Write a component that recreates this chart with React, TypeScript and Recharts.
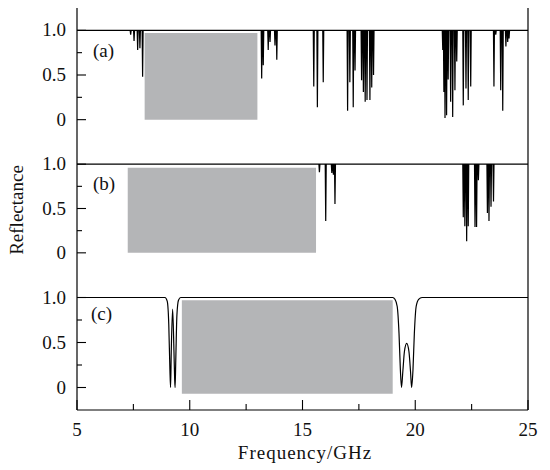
import { LineChart, Line, XAxis, YAxis, ReferenceArea } from 'recharts';

const xTicks = [5, 7.5, 10, 12.5, 15, 17.5, 20, 22.5, 25];
const yTicks = [0, 0.25, 0.5, 0.75, 1];

// panel (a): narrow resonance dips, frequency (GHz) and minimum reflectance
const dipFreqA = [
  7.38, 7.53, 7.69, 7.79, 7.91, 13.19, 13.26, 13.48, 13.56, 13.78, 13.86, 15.5, 15.66, 15.92,
  17.0, 17.1, 17.25, 17.33, 17.62, 17.7, 17.78, 17.86, 17.99, 18.07, 18.15, 21.22, 21.27, 21.32,
  21.39, 21.46, 21.57, 21.66, 21.76, 21.84, 22.13, 22.25, 22.35, 22.46, 23.49, 23.57, 23.79,
  23.88, 24.02, 24.1, 24.16,
];
const dipMinA = [
  0.95, 0.88, 0.78, 0.8, 0.48, 0.46, 0.61, 0.78, 0.87, 0.83, 0.67, 0.37, 0.14, 0.42, 0.1, 0.42,
  0.14, 0.55, 0.44, 0.31, 0.2, 0.22, 0.22, 0.36, 0.5, 0.78, 0.31, 0.02, 0.05, 0.45, 0.2, 0.03,
  0.33, 0.65, 0.16, 0.35, 0.22, 0.37, 0.37, 0.95, 0.33, 0.1, 0.82, 0.87, 0.91,
];

// panel (b)
const dipFreqB = [
  15.75, 16.03, 16.3, 16.37, 16.44, 22.13, 22.2, 22.28, 22.35, 22.65, 22.72, 22.8, 23.2, 23.27,
  23.36, 23.47,
];
const dipMinB = [0.91, 0.36, 0.9, 0.88, 0.55, 0.4, 0.3, 0.13, 0.3, 0.29, 0.29, 0.82, 0.45, 0.36, 0.52, 0.58];

const freqC = [
  5, 8.9, 9.0, 9.07, 9.12, 9.15, 9.18, 9.24, 9.3, 9.33, 9.35, 9.38, 9.43, 9.5, 9.6, 19.0, 19.1,
  19.2, 19.28, 19.34, 19.39, 19.45, 19.52, 19.62, 19.72, 19.79, 19.84, 19.9, 19.96, 20.04, 20.15,
  20.3, 25,
];
const reflC = [
  1, 1, 0.96, 0.7, 0.2, 0, 0.4, 0.87, 0.4, 0.1, 0, 0.3, 0.8, 0.97, 1, 1, 0.98, 0.9, 0.6, 0.2, 0,
  0.18, 0.4, 0.49, 0.4, 0.18, 0, 0.2, 0.6, 0.9, 0.98, 1, 1,
];

// gray bands [x1, x2, y1, y2]
const bandA = [8.0, 13.0, 0, 0.97];
const bandB = [7.25, 15.6, 0, 0.96];
const bandC = [9.65, 19.0, -0.07, 0.97];

const spikes = (freqs: number[], mins: number[]) => {
  const pts = [{ f: 5, r: 1 }];
  freqs.forEach((f, i) => {
    pts.push({ f: f - 0.022, r: 1 }, { f, r: mins[i] }, { f: f + 0.022, r: 1 });
  });
  pts.push({ f: 25, r: 1 });
  return pts;
};

const dataA = spikes(dipFreqA, dipMinA);
const dataB = spikes(dipFreqB, dipMinB);
const dataC = freqC.map((f, i) => ({ f, r: reflC[i] }));

const FONT = "'Liberation Serif', 'Times New Roman', serif";
const AXIS = { stroke: '#000', strokeWidth: 1.2 };
const textStyle = { fontFamily: FONT, fontSize: 19, fill: '#111' };

const bottomTick = (showLabel: boolean) => (props: any) => {
  const { x, y, payload } = props;
  const v = payload.value;
  const major = v % 5 === 0;
  return (
    <g>
      <line x1={x} x2={x} y1={y} y2={y - (major ? 10 : 6)} stroke="#000" strokeWidth={1.1} />
      {showLabel && major && (
        <text x={x} y={y + 25.5} textAnchor="middle" style={textStyle}>
          {v}
        </text>
      )}
    </g>
  );
};

const leftTick = (props: any) => {
  const { x, y, payload } = props;
  const v = payload.value;
  const major = v === 0 || v === 0.5 || v === 1;
  return (
    <g>
      <line x1={x} x2={x + (major ? 9 : 5)} y1={y} y2={y} stroke="#000" strokeWidth={1.1} />
      {major && (
        <text x={x - 11} y={y + 6} textAnchor="end" style={textStyle}>
          {v === 0 ? '0' : v.toFixed(1)}
        </text>
      )}
    </g>
  );
};

const rightTick = (props: any) => {
  const { x, y } = props;
  return <line x1={x} x2={x - 6} y1={y} y2={y} stroke="#000" strokeWidth={1.1} />;
};

function Panel({
  data,
  band,
  top,
  last,
  smooth,
}: {
  data: { f: number; r: number }[];
  band: number[];
  top: number;
  last?: boolean;
  smooth?: boolean;
}) {
  const plotH = top === 6 ? 134 : 133;
  const axisH = last ? 40 : 0;
  return (
    <div style={{ position: 'absolute', left: 0, top }}>
      <LineChart
        width={550}
        height={plotH + 4 + axisH}
        data={data}
        margin={{ top: 2, right: 0, bottom: last ? 0 : 2, left: 0 }}
      >
        <XAxis
          dataKey="f"
          type="number"
          domain={[5, 25]}
          ticks={xTicks}
          interval={0}
          height={axisH}
          tickSize={0}
          tickMargin={0}
          tickLine={false}
          axisLine={AXIS}
          tick={bottomTick(!!last)}
        />
        <XAxis
          xAxisId="top"
          orientation="top"
          dataKey="f"
          type="number"
          domain={[5, 25]}
          height={0}
          tick={false}
          tickLine={false}
          axisLine={AXIS}
        />
        <YAxis
          type="number"
          domain={[-0.25, 1.25]}
          ticks={yTicks}
          interval={0}
          width={77}
          tickSize={0}
          tickMargin={0}
          tickLine={false}
          axisLine={AXIS}
          tick={leftTick}
        />
        <YAxis
          yAxisId="right"
          orientation="right"
          type="number"
          domain={[-0.25, 1.25]}
          ticks={yTicks}
          interval={0}
          width={22}
          tickSize={0}
          tickMargin={0}
          tickLine={false}
          axisLine={AXIS}
          tick={rightTick}
        />
        <ReferenceArea
          x1={band[0]}
          x2={band[1]}
          y1={band[2]}
          y2={band[3]}
          fill="#b4b5b7"
          fillOpacity={1}
          stroke="none"
          ifOverflow="visible"
        />
        <Line
          type={smooth ? 'monotone' : 'linear'}
          dataKey="r"
          stroke="#000"
          strokeWidth={1.2}
          dot={false}
          isAnimationActive={false}
        />
      </LineChart>
    </div>
  );
}

const labelStyle = {
  position: 'absolute' as const,
  fontFamily: FONT,
  fontSize: 19,
  lineHeight: '19px',
  color: '#111',
};

export default function App() {
  return (
    <div
      style={{
        position: 'absolute',
        left: 0,
        top: 0,
        width: 550,
        height: 470,
        background: '#fff',
        fontFamily: FONT,
      }}
    >
      <Panel data={dataA} band={bandA} top={6} />
      <Panel data={dataB} band={bandB} top={140} />
      <Panel data={dataC} band={bandC} top={273} last smooth />
      <div style={{ ...labelStyle, left: 93, top: 41 }}>(a)</div>
      <div style={{ ...labelStyle, left: 93, top: 174 }}>(b)</div>
      <div style={{ ...labelStyle, left: 91, top: 304 }}>(c)</div>
      <div
        style={{
          ...labelStyle,
          left: 16,
          top: 210,
          transform: 'translate(-50%, -50%) rotate(-90deg)',
          whiteSpace: 'nowrap',
        }}
      >
        Reflectance
      </div>
      <div
        style={{
          ...labelStyle,
          left: 305,
          top: 443,
          transform: 'translateX(-50%)',
          whiteSpace: 'nowrap',
          letterSpacing: 1,
        }}
      >
        Frequency/GHz
      </div>
    </div>
  );
}
